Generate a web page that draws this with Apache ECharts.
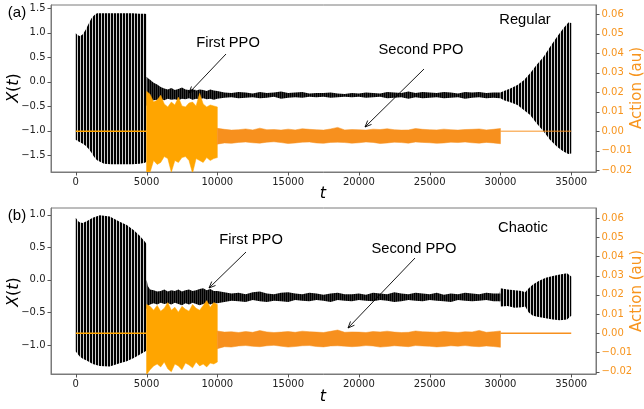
<!DOCTYPE html>
<html><head><meta charset="utf-8">
<script src="https://cdn.jsdelivr.net/npm/echarts@6/dist/echarts.min.js"></script>
<style>html,body{margin:0;padding:0;background:#fff}#c{width:644px;height:409px}</style>
</head><body><div id="c"></div>
<script>
// ---------- tick labels ----------
const tTicks = [0, 5000, 10000, 15000, 20000, 25000, 30000, 35000];
const xTicksA = [-1.5, -1.0, -0.5, 0.0, 0.5, 1.0, 1.5];
const xTicksB = [-1.0, -0.5, 0.0, 0.5, 1.0];
const actionTicks = [-0.02, -0.01, 0.00, 0.01, 0.02, 0.03, 0.04, 0.05, 0.06];

// ---------- panel (a) Regular : X(t) envelopes ----------
const aOscT  = [0, 100, 300, 500, 700, 900, 1100, 1300, 1500, 2000, 2500, 3000, 3500, 4000, 4500, 4900, 5000];
const aOscHi = [0.99, 0.96, 0.93, 0.97, 1.06, 1.18, 1.29, 1.36, 1.40, 1.40, 1.40, 1.40, 1.40, 1.40, 1.39, 1.39, 1.38];
const aOscLo = [-1.19, -1.21, -1.24, -1.27, -1.31, -1.37, -1.45, -1.54, -1.61, -1.68, -1.69, -1.69, -1.69, -1.69, -1.68, -1.66, -1.63];

const noiseT = [5000, 5100, 5250, 5500, 5750, 6000, 6250, 6500, 6750, 7000, 7250, 7500, 7750, 8000, 8250, 8500, 8750, 9000, 9250, 9500, 9750,
  10000, 10500, 11000, 11500, 12000, 12500, 13000, 13500, 14000, 14500, 15000, 15500, 16000, 16500, 17000, 17500, 18000, 18500, 19000, 19500,
  20000, 20500, 21000, 21500, 22000, 22500, 23000, 23500, 24000, 24500, 25000, 25500, 26000, 26500, 27000, 27500, 28000, 28500, 29000, 29500, 30000];
const aNoiseHi = [0.10, 0.07, 0.04, -0.02, -0.06, -0.11, -0.14, -0.16, -0.13, -0.17, -0.15, -0.12, -0.16, -0.17, -0.15, -0.18, -0.16, -0.17, -0.19, -0.16, -0.18,
  -0.19, -0.22, -0.23, -0.21, -0.22, -0.24, -0.21, -0.23, -0.22, -0.20, -0.23, -0.22, -0.21, -0.24, -0.23, -0.23, -0.22, -0.24, -0.25, -0.23,
  -0.24, -0.22, -0.23, -0.24, -0.21, -0.22, -0.23, -0.20, -0.23, -0.21, -0.22, -0.23, -0.21, -0.22, -0.24, -0.21, -0.22, -0.21, -0.23, -0.22, -0.22];
const aNoiseLo = [-0.50, -0.44, -0.40, -0.38, -0.37, -0.36, -0.38, -0.35, -0.37, -0.36, -0.38, -0.35, -0.36, -0.34, -0.37, -0.35, -0.36, -0.34, -0.36, -0.35, -0.37,
  -0.35, -0.33, -0.32, -0.34, -0.33, -0.32, -0.34, -0.33, -0.31, -0.35, -0.33, -0.32, -0.33, -0.31, -0.32, -0.31, -0.33, -0.32, -0.31, -0.32,
  -0.31, -0.33, -0.32, -0.31, -0.34, -0.33, -0.32, -0.35, -0.32, -0.34, -0.33, -0.32, -0.34, -0.33, -0.32, -0.35, -0.33, -0.32, -0.34, -0.33, -0.34];

const aGrowT  = [30000, 30250, 30700, 31200, 31650, 32100, 32550, 33050, 33500, 34000, 34450, 34800, 35000];
const aGrowHi = [-0.22, -0.19, -0.14, -0.07, 0.03, 0.17, 0.34, 0.51, 0.71, 0.92, 1.09, 1.21, 1.20];
const aGrowLo = [-0.34, -0.38, -0.42, -0.48, -0.58, -0.68, -0.85, -1.02, -1.19, -1.33, -1.43, -1.48, -1.47];

// ---------- panel (a) Action ----------
const flat1T = [0, 5000];
const flat1V = [0.0, 0.0];
const flat2T = [30000, 35000];
const flat2V = [0.0, 0.0];

const org1T = [5000, 5250, 5500, 5750, 6000, 6250, 6500, 6750, 7000, 7250, 7500, 7750, 8000, 8250, 8500, 8750, 9000, 9250, 9500, 9750, 10000];
const aOrg1Hi = [0.0205, 0.0190, 0.0150, 0.0160, 0.0185, 0.0140, 0.0125, 0.0150, 0.0135, 0.0175, 0.0130, 0.0125, 0.0145, 0.0150, 0.0130, 0.0195, 0.0140, 0.0125, 0.0135, 0.0130, 0.0125];
const aOrg1Lo = [-0.0230, -0.0210, -0.0150, -0.0170, -0.0160, -0.0130, -0.0140, -0.0210, -0.0150, -0.0160, -0.0135, -0.0130, -0.0150, -0.0215, -0.0140, -0.0150, -0.0160, -0.0135, -0.0150, -0.0140, -0.0135];

const org2T = [10000, 10500, 11000, 11500, 12000, 12500, 13000, 13500, 14000, 14500, 15000, 15500, 16000, 16500, 17000, 17500, 18000, 18500, 19000, 19500, 20000, 20500, 21000, 21500, 22000, 22500, 23000, 23500, 24000, 24500, 25000, 25500, 26000, 26500, 27000, 27500, 28000, 28500, 29000, 29500, 30000];
const aOrg2Hi = [0.0015, 0.0010, 0.0006, 0.0008, 0.0012, 0.0007, 0.0016, 0.0008, 0.0009, 0.0006, 0.0011, 0.0007, 0.0013, 0.0010, 0.0008, 0.0006, 0.0012, 0.0020, 0.0007, 0.0009, 0.0008, 0.0006, 0.0011, 0.0009, 0.0013, 0.0008, 0.0006, 0.0007, 0.0014, 0.0010, 0.0008, 0.0007, 0.0011, 0.0008, 0.0006, 0.0009, 0.0010, 0.0012, 0.0007, 0.0010, 0.0014];
const aOrg2Lo = [-0.0066, -0.0060, -0.0062, -0.0057, -0.0055, -0.0059, -0.0061, -0.0056, -0.0054, -0.0058, -0.0063, -0.0060, -0.0056, -0.0055, -0.0060, -0.0062, -0.0057, -0.0056, -0.0058, -0.0061, -0.0059, -0.0055, -0.0057, -0.0063, -0.0060, -0.0056, -0.0058, -0.0061, -0.0055, -0.0057, -0.0059, -0.0062, -0.0060, -0.0056, -0.0058, -0.0055, -0.0059, -0.0061, -0.0057, -0.0060, -0.0064];

// ---------- panel (b) Chaotic : X(t) envelopes ----------
const bOscT  = [0, 150, 300, 500, 800, 1200, 1700, 2400, 3100, 3600, 4100, 4500, 4900, 5000];
const bOscHi = [0.95, 0.90, 0.88, 0.87, 0.90, 0.95, 0.99, 0.97, 0.89, 0.84, 0.76, 0.68, 0.58, 0.55];
const bOscLo = [-1.10, -1.14, -1.18, -1.21, -1.24, -1.29, -1.32, -1.33, -1.28, -1.25, -1.20, -1.15, -1.10, -1.08];

const bNoiseHi = [0.00, -0.10, -0.15, -0.16, -0.18, -0.17, -0.15, -0.18, -0.16, -0.17, -0.15, -0.18, -0.16, -0.15, -0.17, -0.16, -0.14, -0.13, -0.16, -0.14, -0.17,
  -0.17, -0.19, -0.21, -0.20, -0.22, -0.19, -0.18, -0.21, -0.22, -0.20, -0.19, -0.21, -0.22, -0.20, -0.21, -0.23, -0.21, -0.20, -0.22, -0.22,
  -0.21, -0.23, -0.20, -0.21, -0.22, -0.19, -0.21, -0.22, -0.20, -0.21, -0.22, -0.20, -0.23, -0.21, -0.22, -0.20, -0.21, -0.22, -0.20, -0.21, -0.21];
const bNoiseLo = [-0.45, -0.40, -0.38, -0.36, -0.38, -0.35, -0.37, -0.36, -0.38, -0.35, -0.37, -0.39, -0.36, -0.38, -0.35, -0.37, -0.39, -0.37, -0.36, -0.38, -0.36,
  -0.36, -0.34, -0.32, -0.33, -0.34, -0.31, -0.33, -0.34, -0.32, -0.33, -0.34, -0.31, -0.32, -0.33, -0.31, -0.32, -0.34, -0.31, -0.32, -0.33,
  -0.31, -0.32, -0.33, -0.31, -0.32, -0.34, -0.33, -0.31, -0.32, -0.33, -0.31, -0.32, -0.33, -0.34, -0.31, -0.32, -0.33, -0.32, -0.31, -0.33, -0.33];

const bGrowT  = [29950, 30000, 30500, 31000, 31500, 31750, 32000, 32300, 32700, 33200, 33700, 34200, 34700, 35000];
const bGrowHi = [-0.20, -0.13, -0.15, -0.16, -0.17, -0.19, -0.13, -0.07, -0.02, 0.03, 0.06, 0.08, 0.10, 0.05];
const bGrowLo = [-0.32, -0.41, -0.40, -0.43, -0.42, -0.41, -0.50, -0.55, -0.57, -0.59, -0.61, -0.62, -0.61, -0.55];

// ---------- panel (b) Action ----------
const bOrg1Hi = [0.0150, 0.0140, 0.0120, 0.0145, 0.0115, 0.0130, 0.0160, 0.0120, 0.0135, 0.0110, 0.0140, 0.0125, 0.0115, 0.0150, 0.0130, 0.0120, 0.0145, 0.0170, 0.0135, 0.0160, 0.0150];
const bOrg1Lo = [-0.0215, -0.0190, -0.0170, -0.0160, -0.0175, -0.0150, -0.0185, -0.0200, -0.0160, -0.0170, -0.0190, -0.0155, -0.0165, -0.0180, -0.0150, -0.0170, -0.0160, -0.0175, -0.0155, -0.0160, -0.0150];
const bOrg2Hi = [0.0012, 0.0006, 0.0008, 0.0004, 0.0009, 0.0005, 0.0014, 0.0007, 0.0004, 0.0006, 0.0009, 0.0005, 0.0011, 0.0008, 0.0006, 0.0004, 0.0010, 0.0017, 0.0005, 0.0007, 0.0006, 0.0004, 0.0009, 0.0007, 0.0011, 0.0006, 0.0004, 0.0005, 0.0012, 0.0008, 0.0007, 0.0005, 0.0009, 0.0006, 0.0004, 0.0008, 0.0007, 0.0015, 0.0005, 0.0008, 0.0012];
const bOrg2Lo = [-0.0080, -0.0070, -0.0072, -0.0066, -0.0064, -0.0068, -0.0070, -0.0065, -0.0063, -0.0067, -0.0072, -0.0069, -0.0065, -0.0064, -0.0069, -0.0071, -0.0066, -0.0065, -0.0067, -0.0070, -0.0068, -0.0064, -0.0066, -0.0072, -0.0069, -0.0065, -0.0067, -0.0070, -0.0064, -0.0066, -0.0068, -0.0071, -0.0069, -0.0065, -0.0067, -0.0064, -0.0068, -0.0070, -0.0066, -0.0069, -0.0073];

// ---------- styling ----------
const ORANGE1 = '#ffa500';
const ORANGE2 = '#f7901e';
const AX_ORANGE = '#f7941d';
const FRAME = '#7a7a7a';
const TICK = '#555';
const TXT = '#222';
const T_MIN = -1750, T_MAX = 36750;
const AY = [-1.848, 1.568], AA = [-0.0209, 0.0648], BY = [-1.444, 1.101], BA = [-0.0212, 0.0652];

function stripes(w, dark, light) {
  const c = document.createElement('canvas');
  c.width = w; c.height = 2;
  const g = c.getContext('2d');
  g.fillStyle = light; g.fillRect(0, 0, w, 2);
  g.fillStyle = dark; g.fillRect(0, 0, w - 1, 2);
  return c;
}
const stripeFill = { image: stripes(3, '#000', 'rgba(0,0,0,0.2)'), repeat: 'repeat' };
const noiseFill = { image: stripes(2, '#000', 'rgba(0,0,0,0.8)'), repeat: 'repeat' };

function band(xi, yi, T, HI, LO, fill, stroke, z, lw) {
  return {
    type: 'custom', xAxisIndex: xi, yAxisIndex: yi, clip: true, z: z,
    silent: true,
    data: [[T[0], HI[0]]],
    renderItem: function (params, api) {
      const pts = [];
      for (let i = 0; i < T.length; i++) pts.push(api.coord([T[i], HI[i]]));
      for (let i = T.length - 1; i >= 0; i--) pts.push(api.coord([T[i], LO[i]]));
      return { type: 'polygon', shape: { points: pts },
        style: { fill: fill, stroke: stroke || null, lineWidth: stroke ? (lw || 0.6) : 0 } };
    }
  };
}
function flat(xi, yi, T, V, color, op, z) {
  return { type: 'line', xAxisIndex: xi, yAxisIndex: yi, z: z, showSymbol: false, silent: true,
    data: T.map((t, i) => [t, V[i]]),
    lineStyle: { color: color, width: 1.5, opacity: op } };
}
// outward tick marks placed through the axis scales
function ticks(xi, yi, vals, kind, edge) {
  return {
    type: 'custom', xAxisIndex: xi, yAxisIndex: yi, clip: false, z: 50, silent: true,
    data: vals.map(v => [v]),
    renderItem: function (params, api) {
      const v = api.value(0);
      let p, x1, y1, x2, y2;
      if (kind === 'x') { p = api.coord([v, edge]); x1 = x2 = Math.round(p[0]) + 0.5; y1 = p[1]; y2 = p[1] + 3.5; }
      else if (kind === 'l') { p = api.coord([edge, v]); y1 = y2 = Math.round(p[1]) + 0.5; x1 = p[0]; x2 = p[0] - 3.5; }
      else { p = api.coord([edge, v]); y1 = y2 = Math.round(p[1]) + 0.5; x1 = p[0]; x2 = p[0] + 3.5; }
      return { type: 'line', shape: { x1: x1, y1: y1, x2: x2, y2: y2 }, style: { stroke: TICK, lineWidth: 1 } };
    }
  };
}

const fmt1 = v => (Math.abs(v) < 1e-9 ? '0.0' : v.toFixed(1).replace('-', '\u2212'));
const fmt2 = v => (Math.abs(v) < 1e-9 ? '0.00' : v.toFixed(2).replace('-', '\u2212'));

function xAx(gi) {
  return { type: 'value', gridIndex: gi, min: T_MIN, max: T_MAX,
    axisLine: { show: true, onZero: false, lineStyle: { color: FRAME, width: 1 } }, splitLine: { show: false },
    axisTick: { show: false },
    axisLabel: { customValues: tTicks, margin: 5.5, fontSize: 10, color: TXT, fontFamily: 'DejaVu Sans', formatter: v => String(v) } };
}
function yAx(gi, pos, ext, tk, color, f) {
  return { type: 'value', gridIndex: gi, position: pos, min: ext[0], max: ext[1],
    axisLine: { show: true, onZero: false, lineStyle: { color: FRAME, width: 1 } }, splitLine: { show: false },
    axisTick: { show: false },
    axisLabel: { customValues: tk, margin: 5.5, fontSize: 10, color: color, fontFamily: 'DejaVu Sans', formatter: f } };
}

function arrow(x1, y1, x2, y2) {
  const a = Math.atan2(y2 - y1, x2 - x1), L = 7, w = 0.4;
  return [
    { type: 'line', shape: { x1: x1, y1: y1, x2: x2, y2: y2 }, style: { stroke: '#000', lineWidth: 0.9 }, z: 100 },
    { type: 'polyline', shape: { points: [[x2 - L * Math.cos(a - w), y2 - L * Math.sin(a - w)], [x2, y2], [x2 - L * Math.cos(a + w), y2 - L * Math.sin(a + w)]] },
      style: { stroke: '#000', lineWidth: 0.9, fill: null }, z: 100 }
  ];
}
function txt(s, x, y, extra) {
  return { type: 'text', x: x, y: y, z: 100,
    style: Object.assign({ text: s, fill: '#000', fontSize: 14.7, fontFamily: 'Liberation Sans', align: 'center', verticalAlign: 'middle' }, extra || {}) };
}
function rot(s, x, y, extra) {
  const t = txt(s, x, y, extra); t.rotation = Math.PI / 2; return t;
}
const xtStyle = { fontSize: 16, fontFamily: 'DejaVu Sans', rich: { i: { fontStyle: 'italic', fontSize: 16, fontFamily: 'DejaVu Sans' } } };

const chart = echarts.init(document.getElementById('c'), null, { renderer: 'canvas' });
chart.setOption({
  animation: false,
  backgroundColor: '#fff',
  grid: [
    { left: 51, top: 5, right: 48, height: 167, show: true, borderColor: FRAME, borderWidth: 1, backgroundColor: 'transparent' },
    { left: 51, top: 208, right: 48, height: 166, show: true, borderColor: FRAME, borderWidth: 1, backgroundColor: 'transparent' }
  ],
  xAxis: [xAx(0), xAx(1)],
  yAxis: [
    yAx(0, 'left', AY, xTicksA, TXT, fmt1),
    yAx(0, 'right', AA, actionTicks, AX_ORANGE, fmt2),
    yAx(1, 'left', BY, xTicksB, TXT, fmt1),
    yAx(1, 'right', BA, actionTicks, AX_ORANGE, fmt2)
  ],
  series: [
    band(0, 0, aOscT, aOscHi, aOscLo, stripeFill, null, 2),
    band(0, 0, noiseT, aNoiseHi, aNoiseLo, noiseFill, null, 2),
    band(0, 0, aGrowT, aGrowHi, aGrowLo, stripeFill, null, 2),
    flat(0, 1, flat1T, flat1V, ORANGE1, 1, 5),
    flat(0, 1, flat2T, flat2V, ORANGE2, 0.65, 5),
    band(0, 1, org1T, aOrg1Hi, aOrg1Lo, ORANGE1, ORANGE1, 4, 0.5),
    band(0, 1, org2T, aOrg2Hi, aOrg2Lo, ORANGE2, ORANGE2, 4, 0.5),

    band(1, 2, bOscT, bOscHi, bOscLo, stripeFill, null, 2),
    band(1, 2, noiseT, bNoiseHi, bNoiseLo, noiseFill, null, 2),
    band(1, 2, bGrowT, bGrowHi, bGrowLo, stripeFill, null, 2),
    flat(1, 3, flat1T, flat1V, ORANGE1, 1, 5),
    flat(1, 3, flat2T, flat2V, ORANGE2, 1, 5),
    band(1, 3, org1T, bOrg1Hi, bOrg1Lo, ORANGE1, ORANGE1, 4, 0.5),
    band(1, 3, org2T, bOrg2Hi, bOrg2Lo, ORANGE2, ORANGE2, 4, 0.5),

    ticks(0, 0, tTicks, 'x', AY[0]),
    ticks(0, 0, xTicksA, 'l', T_MIN),
    ticks(0, 1, actionTicks, 'r', T_MAX),
    ticks(1, 2, tTicks, 'x', BY[0]),
    ticks(1, 2, xTicksB, 'l', T_MIN),
    ticks(1, 3, actionTicks, 'r', T_MAX)
  ],
  graphic: [
    txt('(a)', 17, 13, { fontSize: 15 }),
    txt('(b)', 17, 216, { fontSize: 15 }),
    txt('Regular', 525, 20),
    txt('Chaotic', 523, 228),
    txt('First PPO', 228, 43),
    txt('Second PPO', 421, 50),
    txt('First PPO', 251, 240),
    txt('Second PPO', 414, 249),
    ...arrow(226, 54, 189, 93),
    ...arrow(424, 69, 365, 127),
    ...arrow(246, 252, 209, 288),
    ...arrow(415, 258, 348, 328),
    rot('{i|X}({i|t})', 14, 88, xtStyle),
    rot('{i|X}({i|t})', 14, 292, xtStyle),
    rot('Action (au)', 637, 88, { fontSize: 15, fontFamily: 'DejaVu Sans', fill: AX_ORANGE }),
    rot('Action (au)', 637, 291, { fontSize: 15, fontFamily: 'DejaVu Sans', fill: AX_ORANGE }),
    txt('t', 323, 194, { fontSize: 16, fontFamily: 'DejaVu Sans', fontStyle: 'italic' }),
    txt('t', 323, 397, { fontSize: 16, fontFamily: 'DejaVu Sans', fontStyle: 'italic' })
  ]
});
</script>
</body></html>
